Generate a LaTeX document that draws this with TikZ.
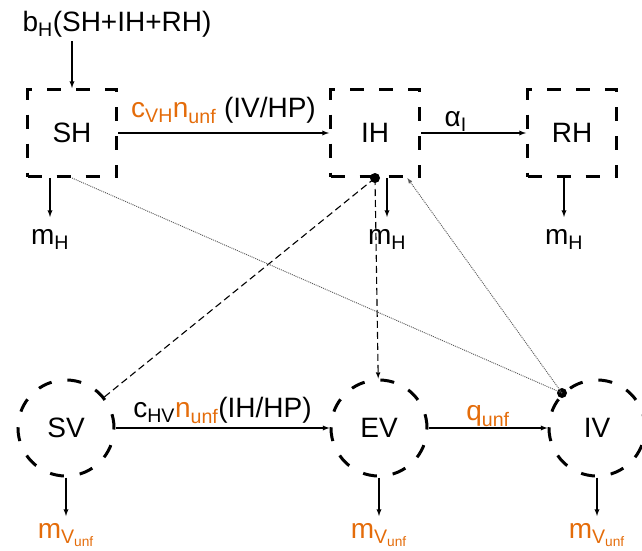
\documentclass[tikz,border=0pt]{standalone}
\usepackage{fontspec}
\setmainfont{Liberation Sans}
\usetikzlibrary{arrows,positioning}
\definecolor{unforange}{RGB}{228,108,10}

\begin{document}
\begin{tikzpicture}[x=1pt,y=-1pt,font=\fontsize{28}{32}\selectfont]
\tikzstyle{hbox}=[rectangle, draw=black, line width=3pt,
	dash pattern=on 14pt off 15pt, minimum width=89pt, minimum height=87pt,
	inner sep=0pt]
\tikzstyle{vcirc}=[circle, draw=black, line width=3pt,
	dash pattern=on 14pt off 16pt, minimum size=96pt, inner sep=0pt]
\tikzstyle{flow}=[-latex, line width=1.3pt]
\tikzstyle{lbl}=[inner sep=1pt]
\tikzstyle{joint}=[circle, fill=black, inner sep=0pt, minimum size=10pt]
\tikzstyle{contact}=[line width=1.1pt, dash pattern=on 7pt off 4pt]
\tikzstyle{bite}=[line width=0.9pt, black!65, dash pattern=on 1pt off 1pt]
\useasboundingbox (0,0) rectangle (642,551);

% hosts
\node[hbox] (sh) at (72,133) { SH };
\node[hbox, right=211pt of sh] (ih) { IH };
\node[hbox, right=105pt of ih] (rh) { RH };
% vectors
\node[vcirc] (sv) at (66,428) { SV };
\node[vcirc, right=214pt of sv] (ev) { EV };
\node[vcirc, right=119pt of ev] (iv) { IV };

% births and deaths
\node[lbl] (bh) at (117,24) {b\textsubscript{H}(SH+IH+RH)};
\node[lbl, anchor=north] (mhs) at (50,228) {m\textsubscript{H}};
\node[lbl, anchor=north] (mhi) at (387,228) {m\textsubscript{H}};
\node[lbl, anchor=north] (mhr) at (564,228) {m\textsubscript{H}};
\node[lbl, anchor=north, unforange] (mvs) at (66,522) {m\textsubscript{V\textsubscript{unf}}};
\node[lbl, anchor=north, unforange] (mve) at (ev.south |- mvs.north) {m\textsubscript{V\textsubscript{unf}}};
\node[lbl, anchor=north, unforange] (mvi) at (iv.south |- mvs.north) {m\textsubscript{V\textsubscript{unf}}};

\draw[flow, shorten <=3pt] (bh.south -| sh) -- (sh);
\draw[flow, shorten >=11pt] (sh.south -| mhs) -- (mhs);
\draw[flow, shorten >=11pt] (ih.south -| mhi) -- (mhi);
\draw[flow, shorten >=11pt] (rh.south -| mhr) -- (mhr);
\draw[flow, shorten >=6pt] (sv.south) -- (mvs);
\draw[flow, shorten >=6pt] (ev.south) -- (mve);
\draw[flow, shorten >=6pt] (iv.south) -- (mvi);

% transitions
\path[flow] (sh) edge node[lbl, above=8pt]
	{\textcolor{unforange}{c\textsubscript{VH}n\textsubscript{unf}} (IV/HP)} (ih);
\path[flow] (ih) edge node[lbl, above, pos=0.33] {α\textsubscript{I}} (rh);
\path[flow] (sv) edge node[lbl, above=3pt]
	{c\textsubscript{HV}\textcolor{unforange}{n\textsubscript{unf}}(IH/HP)} (ev);
\path[flow] (ev) edge node[lbl, above] {\textcolor{unforange}{q\textsubscript{unf}}} (iv);

% infection contacts
\node[joint] (ihdot) at (ih.south) {};
\node[joint] (ivdot) at (iv.north west) {};
\draw[contact] (ihdot.center) -- (sv);
\draw[contact, -latex] (ihdot.center) -- (ev);
\draw[bite] (ivdot.center) -- (sh.south);
\draw[bite, -latex] (ivdot.center) -- (ih);

\end{tikzpicture}
\end{document}
